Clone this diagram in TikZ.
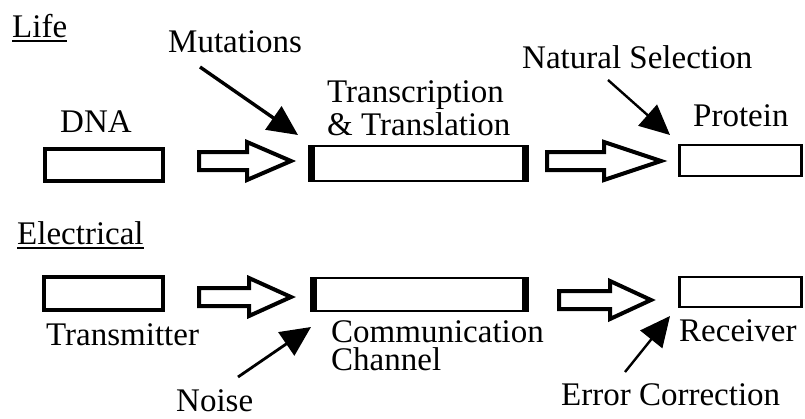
\documentclass[tikz,border=0pt]{standalone}
\usepackage{fontspec}
\setmainfont{Liberation Serif}
\usetikzlibrary{arrows.meta}

\tikzset{
  lbl/.style={anchor=base west, inner sep=0pt, font=\fontsize{33}{33}\selectfont},
  thickbox/.style={draw, line width=4pt},
  thinbox/.style={draw, line width=2.4pt},
  barrow/.style={draw, line width=4pt, line join=miter, fill=white},
  bar/.style={fill=black, draw=none},
  pointer/.style={line width=2.4pt, -{Triangle[length=30pt, width=28pt]}},
  uline/.style={line width=1.4pt}
}

% hollow block arrow: left x, head x, tip x, centre y
\newcommand{\blockarr}[4]{%
  \draw[barrow] (#1,#4-9) -- (#2,#4-9) -- (#2,#4-19) -- (#3,#4)
    -- (#2,#4+19) -- (#2,#4+9) -- (#1,#4+9) -- cycle;}

\begin{document}
\begin{tikzpicture}[x=1pt, y=-1pt]
\useasboundingbox (0,0) rectangle (805,418);

% ---------- Life ----------
\node[lbl] (life) at (12,37) {Life};
\draw[uline] ([yshift=-4pt]life.base west) -- ([yshift=-4pt]life.base east);

\node[lbl] (mut) at (168,52) {Mutations};
\node[lbl] (dna) at (60,132) {DNA};
% multi-line labels: the base anchor sits on the last line
\node[lbl, align=left, font=\fontsize{33}{33}\selectfont] (tt) at (327,135)
  {Transcription\\\& Translation};
\node[lbl] (natsel) at (522,68) {Natural Selection};
\node[lbl] (prot) at (693,126) {Protein};

% boxes
\node[thickbox, minimum width=118pt, minimum height=32pt, inner sep=0pt]
  (dnabox) at (104,165) {};
\node[thinbox, line width=2pt, minimum width=219pt, minimum height=35pt, inner sep=0pt]
  (ttbox) at (418.5,163.5) {};
\fill[bar] (308,145) rectangle (315,182);
\fill[bar] (522,145) rectangle (529,182);
\node[thinbox, minimum width=122pt, minimum height=31pt, inner sep=0pt]
  (protbox) at (740.5,160.5) {};

\blockarr{199}{247}{291}{161}
\blockarr{547}{604}{661}{161}

\coordinate (mutS) at (200,67);
\coordinate (mutT) at (298,135);
\draw[pointer, line width=3.4pt] (mutS) -- (mutT);
\coordinate (natS) at (608,80);
\coordinate (natT) at (670,135);
\draw[pointer] (natS) -- (natT);

% ---------- Electrical ----------
\node[lbl] (elec) at (17,244) {Electrical};
\draw[uline] ([yshift=-4pt]elec.base west) -- ([yshift=-4pt]elec.base east);

\node[thickbox, minimum width=119pt, minimum height=33pt, inner sep=0pt]
  (txbox) at (103.5,293.5) {};
\node[thinbox, line width=2pt, minimum width=217pt, minimum height=33pt, inner sep=0pt]
  (chbox) at (419.5,294) {};
\fill[bar] (310,277) rectangle (317,311);
\fill[bar] (522,277) rectangle (529,311);
\node[thinbox, minimum width=122pt, minimum height=30pt, inner sep=0pt]
  (rxbox) at (740.5,292) {};

\blockarr{199}{249}{291}{297}
\blockarr{559}{610}{651}{300}

\node[lbl] (tx) at (46,345) {Transmitter};
\node[lbl, align=left, font=\fontsize{33}{28}\selectfont] (ch) at (331,370)
  {Communication\\Channel};
\node[lbl] (rx) at (679,341) {Receiver};
\node[lbl] (noise) at (176,411) {Noise};
\node[lbl] (err) at (561,405) {Error Correction};

\coordinate (noiseS) at (238,377);
\coordinate (noiseT) at (311,327);
\draw[pointer, line width=2.8pt] (noiseS) -- (noiseT);
\coordinate (errS) at (625,372);
\coordinate (errT) at (670,316);
\draw[pointer] (errS) -- (errT);
\end{tikzpicture}
\end{document}
